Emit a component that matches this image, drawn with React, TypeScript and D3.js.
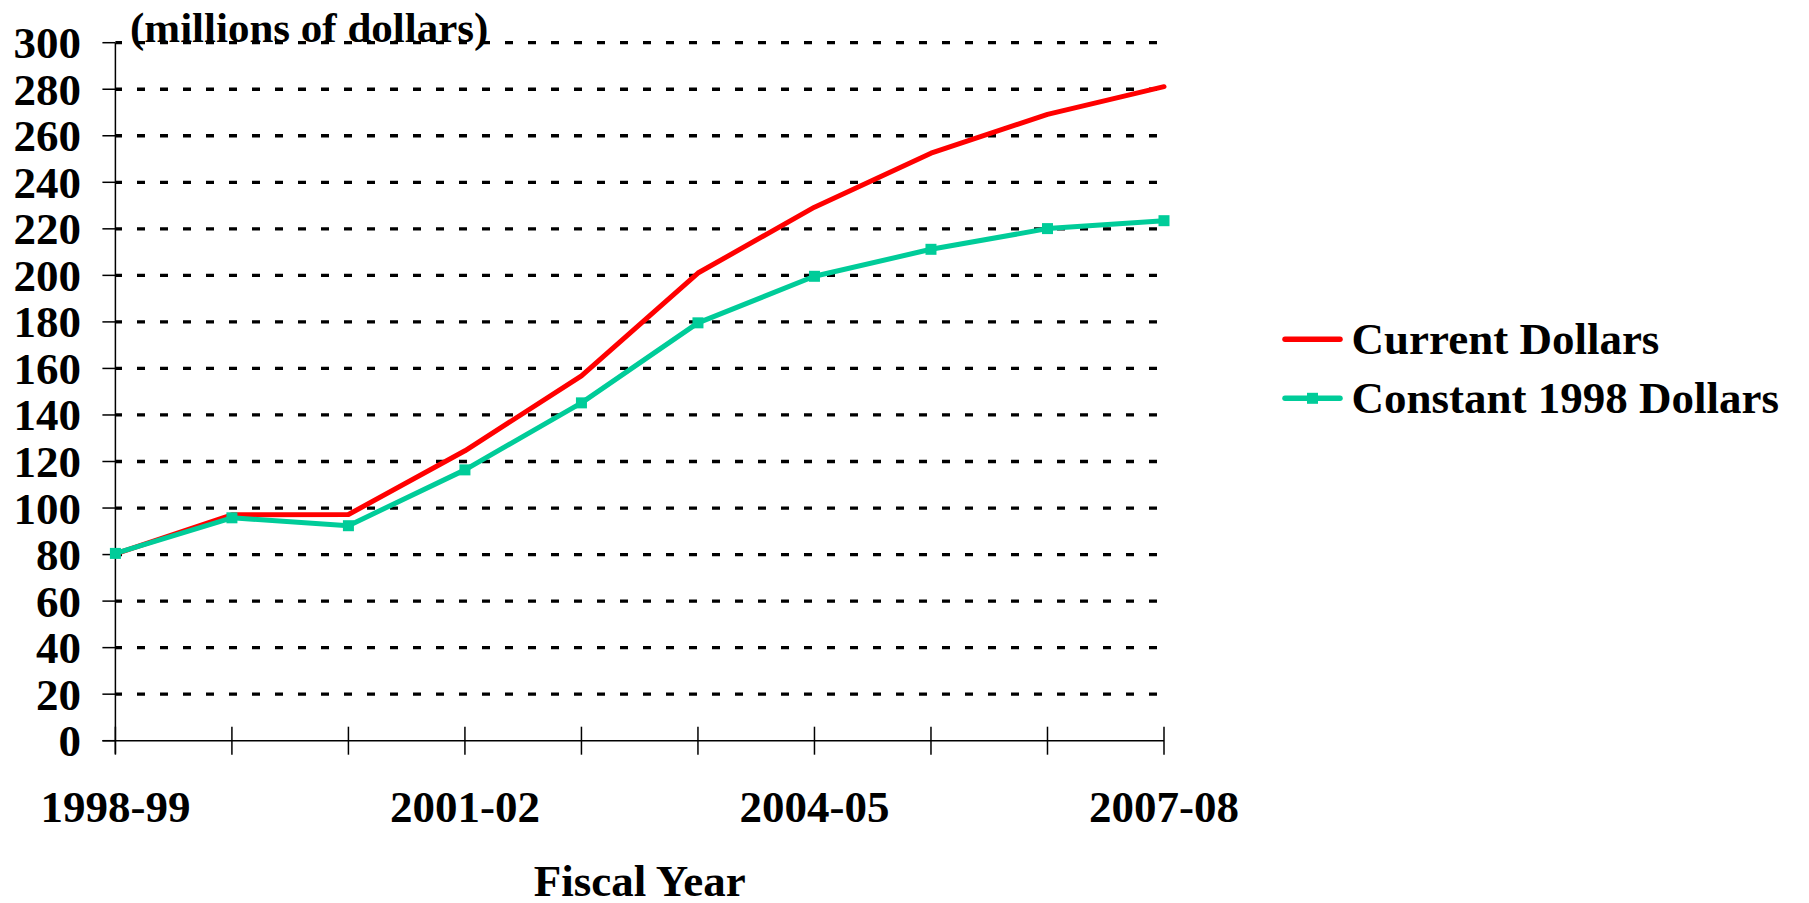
import React from 'react';
import * as d3 from 'd3';

const years = ['1998-99', '1999-00', '2000-01', '2001-02', '2002-03', '2003-04', '2004-05', '2005-06', '2006-07', '2007-08'];
const labeledYears = ['1998-99', '2001-02', '2004-05', '2007-08'];
const currentDollars = [80.3, 97.1, 97.2, 124.6, 156.8, 201, 229.3, 252.5, 269.2, 281.1];
const constantDollars = [80.5, 95.8, 92.4, 116.4, 145.2, 179.6, 199.6, 211.2, 220.1, 223.5];
const yTicks = d3.range(0, 301, 20);
const seriesNames = ['Current Dollars', 'Constant 1998 Dollars'];

const W = 1809;
const H = 903;
const FONT = '"Liberation Serif", "Times New Roman", serif';
const RED = '#ff0000';
const TEAL = '#00cc99';

export default function App() {
  const margin = { top: 42.7, left: 115.4, right: 645, bottom: 162.3 };
  const innerRight = W - margin.right;
  const innerBottom = H - margin.bottom;

  const x = d3.scalePoint<string>().domain(years).range([margin.left, innerRight]);
  const y = d3.scaleLinear().domain([0, 300]).range([innerBottom, margin.top]);

  const line = d3.line<number>()
    .x((_, i) => x(years[i]) as number)
    .y(d => y(d));

  const mk = 11;
  const legendX = 1285;
  const legendRows = [339.3, 398.3];

  return (
    <svg width={W} height={H} style={{ position: 'absolute', left: 0, top: 0, background: '#fff' }} fontFamily={FONT} fontWeight="bold">
      {/* dashed grid */}
      {yTicks.filter(t => t > 0).map(t => (
        <line key={'g' + t} x1={margin.left} x2={innerRight} y1={y(t)} y2={y(t)}
          stroke="#000" strokeWidth={3.3} strokeDasharray="8,15" strokeDashoffset={1.4} />
      ))}

      {/* axes */}
      <line x1={margin.left} x2={margin.left} y1={margin.top} y2={innerBottom + 13} stroke="#000" strokeWidth={1.5} />
      <line x1={margin.left - 13} x2={innerRight} y1={innerBottom} y2={innerBottom} stroke="#000" strokeWidth={1.5} />
      {yTicks.map(t => (
        <g key={'y' + t}>
          <line x1={margin.left - 13} x2={margin.left} y1={y(t)} y2={y(t)} stroke="#000" strokeWidth={1.5} />
          <text x={81} y={y(t) + 15.5} textAnchor="end" fontSize={45}>{t}</text>
        </g>
      ))}
      {years.map(yr => (
        <line key={'x' + yr} x1={x(yr)} x2={x(yr)} y1={innerBottom - 14} y2={innerBottom + 14} stroke="#000" strokeWidth={1.5} />
      ))}
      {labeledYears.map(yr => (
        <text key={'xl' + yr} x={x(yr)} y={822} textAnchor="middle" fontSize={45}>{yr}</text>
      ))}

      <text x={(margin.left + innerRight) / 2} y={896} textAnchor="middle" fontSize={45}>Fiscal Year</text>
      <text x={130} y={42} fontSize={43}>(millions of dollars)</text>

      {/* series */}
      <path d={line(currentDollars) ?? ''} fill="none" stroke={RED} strokeWidth={5} strokeLinejoin="round" strokeLinecap="round" />
      <path d={line(constantDollars) ?? ''} fill="none" stroke={TEAL} strokeWidth={5} strokeLinejoin="round" strokeLinecap="round" />
      {constantDollars.map((v, i) => (
        <rect key={'m' + i} x={(x(years[i]) as number) - mk / 2} y={y(v) - mk / 2} width={mk} height={mk} fill={TEAL} />
      ))}

      {/* legend */}
      {seriesNames.map((name, i) => (
        <g key={name}>
          <line x1={legendX} x2={legendX + 55} y1={legendRows[i]} y2={legendRows[i]}
            stroke={i === 0 ? RED : TEAL} strokeWidth={5.5} strokeLinecap="round" />
          {i === 1 && <rect x={legendX + 27.5 - mk / 2} y={legendRows[i] - mk / 2} width={mk} height={mk} fill={TEAL} />}
          <text x={1351.5} y={legendRows[i] + 15} fontSize={45}>{name}</text>
        </g>
      ))}
    </svg>
  );
}
